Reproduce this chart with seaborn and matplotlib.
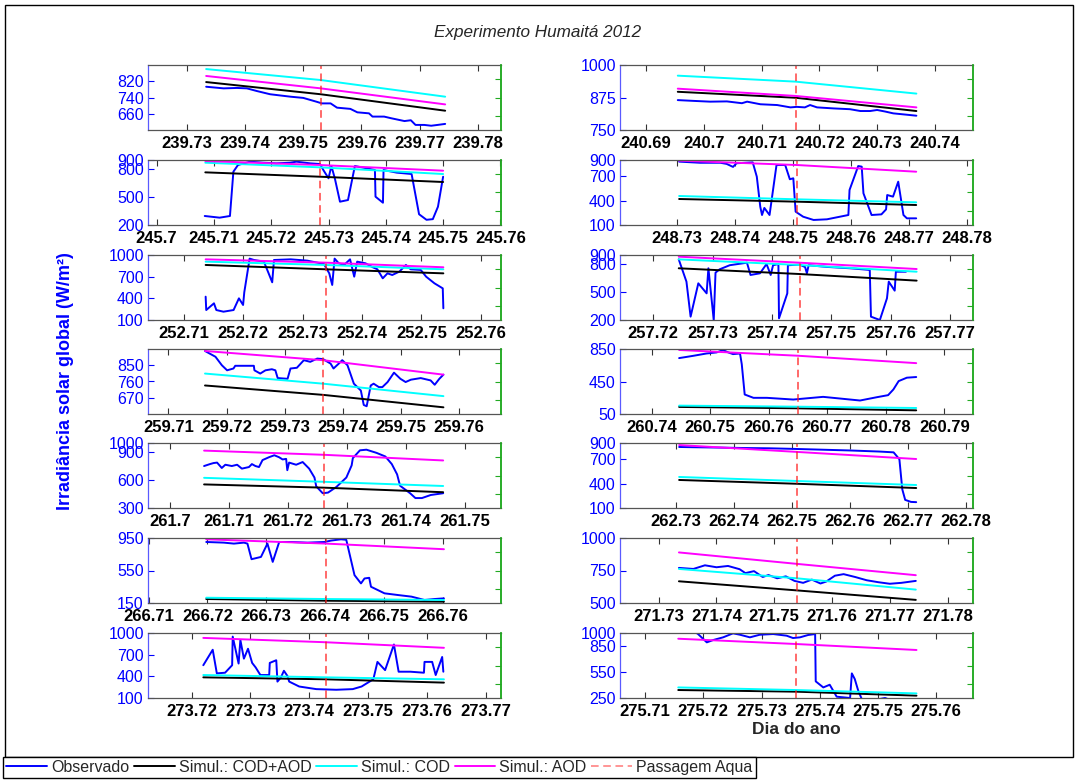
import numpy as np
import matplotlib
matplotlib.use("Agg")
import matplotlib.pyplot as plt
import seaborn as sns
from matplotlib.patches import Rectangle
from matplotlib.lines import Line2D

# ---------------- DATA ----------------
# Panel 1 (day 239)
p1_obs_x = [239.7333, 239.7363, 239.7386, 239.7403, 239.7420, 239.7443, 239.7478, 239.7500, 239.7523, 239.7532,
            239.7547, 239.7558, 239.7581, 239.7593, 239.7613, 239.7619, 239.7639, 239.7651, 239.7674, 239.7685,
            239.7693, 239.7708, 239.7720, 239.7731, 239.7744]
p1_obs_y = [793, 785, 787, 785, 772, 756, 744, 738, 719, 711, 711, 690, 684, 667, 662, 646, 646, 638, 624, 628,
            605, 605, 601, 605, 610]
p1_sim_x = [239.7333, 239.7530, 239.7744]
p1_cod_aod = [816, 756, 675]
p1_cod = [880, 826, 744]
p1_aod = [846, 785, 706]
p1_aqua = 239.7530

# Panel 2 (day 240)
p2_obs_x = [240.6955, 240.6982, 240.7011, 240.7040, 240.7066, 240.7075, 240.7098, 240.7127, 240.7150, 240.7161,
            240.7175, 240.7184, 240.7196, 240.7225, 240.7253, 240.7271, 240.7288, 240.7300, 240.7314, 240.7328,
            240.7346, 240.7368]
p2_obs_y = [865, 862, 859, 860, 853, 859, 849, 846, 837, 839, 837, 846, 837, 833, 830, 823, 823, 827, 821, 814,
            810, 805]
p2_sim_x = [240.6955, 240.7159, 240.7368]
p2_cod_aod = [897, 874, 823]
p2_cod = [959, 936, 890]
p2_aod = [909, 881, 837]
p2_aqua = 240.7159

# Panel 3 (day 245)
p3_obs_x = [245.7084, 245.7110, 245.7128, 245.7134, 245.7142, 245.7163, 245.7186, 245.7209, 245.7233, 245.7244,
            245.7268, 245.7285, 245.7291, 245.7300, 245.7305, 245.7311, 245.7320, 245.7334, 245.7346, 245.7367,
            245.7381, 245.7382, 245.7395, 245.7396, 245.7419, 245.7445, 245.7458, 245.7471, 245.7482, 245.7491,
            245.7500]
p3_obs_y = [297, 279, 297, 774, 846, 882, 871, 864, 871, 882, 864, 857, 792, 703, 835, 703, 451, 469, 835, 810,
            792, 505, 440, 792, 764, 749, 316, 256, 263, 397, 720]
p3_sim_x = [245.7085, 245.7285, 245.7500]
p3_cod_aod = [767, 720, 663]
p3_cod = [871, 821, 749]
p3_aod = [889, 846, 785]
p3_aqua = 245.7285

# Panel 4 (day 248)
p4_obs_x = [248.7304, 248.7340, 248.7375, 248.7386, 248.7397, 248.7403, 248.7431, 248.7438, 248.7444, 248.7447,
            248.7451, 248.7460, 248.7472, 248.7487, 248.7495, 248.7501, 248.7505, 248.7518, 248.7536, 248.7559,
            248.7596, 248.7598, 248.7613, 248.7619, 248.7622, 248.7636, 248.7653, 248.7661, 248.7663, 248.7673,
            248.7682, 248.7691, 248.7697, 248.7713]
p4_obs_y = [880, 866, 866, 852, 815, 860, 871, 695, 325, 223, 310, 223, 838, 838, 663, 675, 264, 202, 162, 170,
            223, 531, 826, 818, 490, 223, 231, 292, 469, 449, 633, 223, 182, 182]
p4_sim_x = [248.7304, 248.7508, 248.7713]
p4_cod_aod = [420, 387, 346]
p4_cod = [457, 416, 379]
p4_aod = [892, 838, 756]
p4_aqua = 248.7508

# Panel 5 (day 252)
p5_obs_x = [252.7137, 252.7138, 252.7151, 252.7155, 252.7167, 252.7184, 252.7193, 252.7200, 252.7202, 252.7211,
            252.7218, 252.7235, 252.7243, 252.7249, 252.7252, 252.7280, 252.7308, 252.7336, 252.7345, 252.7350,
            252.7354, 252.7361, 252.7370, 252.7380, 252.7387, 252.7392, 252.7406, 252.7418, 252.7426, 252.7435,
            252.7443, 252.7451, 252.7463, 252.7474, 252.7482, 252.7499, 252.7508, 252.7522, 252.7536, 252.7537]
p5_obs_y = [423, 238, 331, 238, 215, 238, 400, 308, 483, 950, 932, 908, 746, 622, 931, 940, 922, 876, 746, 585,
            950, 885, 862, 940, 700, 908, 885, 831, 802, 677, 746, 723, 770, 862, 802, 793, 700, 608, 538, 262]
p5_sim_x = [252.7137, 252.7339, 252.7537]
p5_cod_aod = [862, 802, 746]
p5_cod = [908, 862, 802]
p5_aod = [940, 894, 830]
p5_aqua = 252.7339

# Panel 6 (day 257)
p6_obs_x = [257.7243, 257.7256, 257.7263, 257.7276, 257.7290, 257.7293, 257.7302, 257.7305, 257.7312, 257.7329,
            257.7358, 257.7364, 257.7380, 257.7391, 257.7398, 257.7402, 257.7411, 257.7412, 257.7426, 257.7427,
            257.7447, 257.7456, 257.7459, 257.7462, 257.7492, 257.7532, 257.7565, 257.7567, 257.7582, 257.7594,
            257.7597, 257.7607, 257.7609, 257.7622, 257.7626]
p6_obs_y = [853, 613, 236, 595, 487, 757, 200, 710, 746, 790, 817, 685, 703, 803, 685, 790, 803, 218, 487, 790,
            796, 770, 703, 790, 772, 757, 739, 236, 200, 434, 613, 516, 720, 720, 720]
p6_sim_x = [257.7243, 257.7447, 257.7644]
p6_cod_aod = [757, 695, 624]
p6_cod = [853, 792, 720]
p6_aod = [882, 817, 749]
p6_aqua = 257.7447

# Panel 7 (day 259)
p7_obs_x = [259.7163, 259.7181, 259.7192, 259.7201, 259.7212, 259.7215, 259.7247, 259.7248, 259.7258, 259.7267,
            259.7278, 259.7284, 259.7288, 259.7305, 259.7310, 259.7321, 259.7333, 259.7344, 259.7356, 259.7366,
            259.7379, 259.7384, 259.7393, 259.7399, 259.7408, 259.7419, 259.7431, 259.7436, 259.7441, 259.7448,
            259.7453, 259.7462, 259.7468, 259.7477, 259.7488, 259.7499, 259.7508, 259.7517, 259.7534, 259.7551,
            259.7558, 259.7566, 259.7573]
p7_obs_y = [929, 897, 850, 822, 832, 847, 847, 822, 804, 822, 828, 822, 779, 775, 832, 836, 878, 869, 887, 884,
            859, 832, 859, 878, 850, 748, 710, 630, 623, 738, 748, 729, 729, 757, 809, 775, 757, 770, 779, 766,
            742, 775, 798]
p7_sim_x = [259.7163, 259.7366, 259.7573]
p7_cod_aod = [738, 686, 617]
p7_cod = [804, 748, 679]
p7_aod = [929, 878, 798]
p7_aqua = 259.7366

# Panel 8 (day 260)
p8_obs_x = [260.7447, 260.7460, 260.7471, 260.7494, 260.7511, 260.7522, 260.7531, 260.7539, 260.7551, 260.7554,
            260.7559, 260.7574, 260.7597, 260.7642, 260.7693, 260.7728, 260.7756, 260.7785, 260.7804, 260.7813,
            260.7822, 260.7836, 260.7852]
p8_obs_y = [738, 753, 766, 795, 808, 836, 808, 787, 795, 663, 290, 249, 249, 228, 261, 236, 216, 257, 282, 352,
            455, 497, 505]
p8_sim_x = [260.7447, 260.7650, 260.7852]
p8_cod_aod = [137, 120, 95]
p8_cod = [153, 140, 124]
p8_aod = [838, 767, 676]
p8_aqua = 260.7650

# Panel 9 (day 261)
p9_obs_x = [261.7058, 261.7068, 261.7074, 261.7080, 261.7088, 261.7094, 261.7105, 261.7114, 261.7122, 261.7134,
            261.7139, 261.7145, 261.7151, 261.7157, 261.7168, 261.7177, 261.7185, 261.7191, 261.7197, 261.7199,
            261.7202, 261.7214, 261.7225, 261.7236, 261.7245, 261.7248, 261.7259, 261.7268, 261.7282, 261.7299,
            261.7308, 261.7310, 261.7322, 261.7333, 261.7350, 261.7365, 261.7376, 261.7385, 261.7390, 261.7407,
            261.7416, 261.7427, 261.7442, 261.7463]
p9_obs_y = [752, 773, 784, 789, 731, 766, 752, 766, 724, 741, 773, 752, 741, 816, 847, 868, 847, 823, 829, 707,
            789, 766, 795, 724, 628, 533, 459, 466, 526, 628, 759, 837, 921, 928, 894, 855, 773, 662, 540, 459,
            407, 407, 440, 459]
p9_sim_x = [261.7058, 261.7261, 261.7463]
p9_cod_aod = [554, 519, 470]
p9_cod = [625, 582, 537]
p9_aod = [918, 873, 812]
p9_aqua = 261.7261

# Panel 10 (day 262)
p10_obs_x = [262.7305, 262.7330, 262.7380, 262.7420, 262.7460, 262.7500, 262.7550, 262.7600, 262.7650, 262.7675,
             262.7685, 262.7690, 262.7695, 262.7705, 262.7714]
p10_obs_y = [851, 848, 843, 838, 835, 828, 818, 808, 795, 785, 700, 330, 200, 175, 172]
p10_sim_x = [262.7305, 262.7509, 262.7714]
p10_cod_aod = [445, 398, 346]
p10_cod = [482, 432, 383]
p10_aod = [875, 790, 703]
p10_aqua = 262.7509

# Panel 11 (day 266)
p11_obs_x = [266.7198, 266.7228, 266.7245, 266.7262, 266.7268, 266.7275, 266.7291, 266.7302, 266.7311, 266.7322,
             266.7342, 266.7370, 266.7399, 266.7410, 266.7427, 266.7436, 266.7450, 266.7461, 266.7467, 266.7475,
             266.7478, 266.7501, 266.7524, 266.7547, 266.7569, 266.7586, 266.7602]
p11_obs_y = [901, 893, 881, 893, 881, 689, 717, 881, 656, 901, 901, 893, 901, 918, 934, 928, 493, 391, 452, 460,
             350, 269, 248, 228, 187, 199, 207]
p11_sim_x = [266.7198, 266.7402, 266.7602]
p11_cod_aod = [199, 178, 166]
p11_cod = [215, 199, 187]
p11_aod = [934, 881, 812]
p11_aqua = 266.7402

# Panel 12 (day 271)
p12_obs_x = [271.7335, 271.7360, 271.7380, 271.7400, 271.7420, 271.7440, 271.7450, 271.7465, 271.7480, 271.7490,
             271.7505, 271.7520, 271.7535, 271.7550, 271.7565, 271.7580, 271.7590, 271.7605, 271.7620, 271.7640,
             271.7660, 271.7680, 271.7700, 271.7720, 271.7745]
p12_obs_y = [770, 762, 790, 775, 785, 760, 730, 745, 700, 715, 690, 705, 670, 655, 680, 650, 665, 710, 722, 700,
             675, 660, 648, 655, 670]
p12_sim_x = [271.7335, 271.7539, 271.7745]
p12_cod_aod = [667, 597, 524]
p12_cod = [762, 690, 603]
p12_aod = [889, 801, 714]
p12_aqua = 271.7539

# Panel 13 (day 273)
p13_obs_x = [273.7220, 273.7236, 273.7243, 273.7257, 273.7269, 273.7270, 273.7280, 273.7283, 273.7289, 273.7296,
             273.7303, 273.7309, 273.7317, 273.7332, 273.7333, 273.7344, 273.7346, 273.7352, 273.7357, 273.7363,
             273.7366, 273.7383, 273.7412, 273.7446, 273.7474, 273.7489, 273.7509, 273.7516, 273.7529, 273.7544,
             273.7552, 273.7572, 273.7595, 273.7596, 273.7609, 273.7615, 273.7626, 273.7628]
p13_obs_y = [554, 768, 441, 450, 554, 950, 577, 904, 645, 782, 586, 523, 418, 418, 586, 623, 327, 386, 477, 405,
             327, 259, 223, 214, 223, 259, 359, 600, 486, 841, 464, 464, 450, 600, 600, 418, 668, 464]
p13_sim_x = [273.7220, 273.7428, 273.7629]
p13_cod_aod = [386, 359, 313]
p13_cod = [418, 386, 359]
p13_aod = [932, 872, 795]
p13_aqua = 273.7428

# Panel 14 (day 275)
p14_obs_x = [275.7157, 275.7172, 275.7186, 275.7191, 275.7206, 275.7217, 275.7234, 275.7251, 275.7263, 275.7280,
             275.7297, 275.7320, 275.7343, 275.7354, 275.7366, 275.7380, 275.7392, 275.7393, 275.7406, 275.7417,
             275.7429, 275.7452, 275.7455, 275.7460, 275.7466, 275.7472, 275.7492, 275.7512, 275.7520, 275.7566]
p14_obs_y = [1060, 1040, 1010, 988, 892, 919, 950, 996, 980, 950, 980, 988, 969, 942, 950, 977, 988, 442, 372,
             403, 265, 250, 534, 469, 334, 238, 225, 250, 230, 210]
p14_sim_x = [275.7157, 275.7359, 275.7566]
p14_cod_aod = [342, 323, 277]
p14_cod = [372, 342, 303]
p14_aod = [934, 873, 804]
p14_aqua = 275.7359

# Axis ranges and tick labels
x_lims = [(239.7233, 239.7840), (240.6855, 240.7466), (245.6985, 245.7601), (248.7202, 248.7811),
          (252.7040, 252.7634), (257.7144, 257.7739), (259.7065, 259.7672), (260.7346, 260.7949),
          (261.6963, 261.7561), (262.7203, 262.7812), (266.7099, 266.7699), (271.7233, 271.7844),
          (273.7126, 273.7726), (275.7057, 275.7663)]
x_first_tick = [239.73, 240.69, 245.70, 248.73, 252.71, 257.72, 259.71, 260.74, 261.70, 262.73, 266.71, 271.73,
                273.72, 275.71]
x_tick_count = [6, 6, 7, 6, 6, 6, 6, 6, 6, 6, 6, 6, 6, 6]
y_lims = [(580, 900), (750, 1000), (200, 900), (100, 900), (100, 1000), (200, 900), (580, 940), (50, 850),
          (300, 1000), (100, 900), (150, 950), (500, 1000), (100, 1000), (250, 1000)]
y_ticks = [[660, 740, 820], [750, 875, 1000], [200, 500, 800, 900], [100, 400, 700, 900],
           [100, 400, 700, 1000], [200, 500, 800, 900], [670, 760, 850], [50, 450, 850],
           [300, 600, 900, 1000], [100, 400, 700, 900], [150, 550, 950], [500, 750, 1000],
           [100, 400, 700, 1000], [250, 550, 850, 1000]]

panels = [
    (p1_obs_x, p1_obs_y, p1_sim_x, p1_cod_aod, p1_cod, p1_aod, p1_aqua),
    (p2_obs_x, p2_obs_y, p2_sim_x, p2_cod_aod, p2_cod, p2_aod, p2_aqua),
    (p3_obs_x, p3_obs_y, p3_sim_x, p3_cod_aod, p3_cod, p3_aod, p3_aqua),
    (p4_obs_x, p4_obs_y, p4_sim_x, p4_cod_aod, p4_cod, p4_aod, p4_aqua),
    (p5_obs_x, p5_obs_y, p5_sim_x, p5_cod_aod, p5_cod, p5_aod, p5_aqua),
    (p6_obs_x, p6_obs_y, p6_sim_x, p6_cod_aod, p6_cod, p6_aod, p6_aqua),
    (p7_obs_x, p7_obs_y, p7_sim_x, p7_cod_aod, p7_cod, p7_aod, p7_aqua),
    (p8_obs_x, p8_obs_y, p8_sim_x, p8_cod_aod, p8_cod, p8_aod, p8_aqua),
    (p9_obs_x, p9_obs_y, p9_sim_x, p9_cod_aod, p9_cod, p9_aod, p9_aqua),
    (p10_obs_x, p10_obs_y, p10_sim_x, p10_cod_aod, p10_cod, p10_aod, p10_aqua),
    (p11_obs_x, p11_obs_y, p11_sim_x, p11_cod_aod, p11_cod, p11_aod, p11_aqua),
    (p12_obs_x, p12_obs_y, p12_sim_x, p12_cod_aod, p12_cod, p12_aod, p12_aqua),
    (p13_obs_x, p13_obs_y, p13_sim_x, p13_cod_aod, p13_cod, p13_aod, p13_aqua),
    (p14_obs_x, p14_obs_y, p14_sim_x, p14_cod_aod, p14_cod, p14_aod, p14_aqua),
]

legend_labels = ["Observado", "Simul.: COD+AOD", "Simul.: COD", "Simul.: AOD", "Passagem Aqua"]

# ---------------- STYLE ----------------
sns.set_style("white")
plt.rcParams['font.family'] = ['Liberation Sans', 'DejaVu Sans']

W, H = 1078, 782
fig = plt.figure(figsize=(W / 100, H / 100), dpi=100)

C_OBS, C_CA, C_COD, C_AOD, C_AQ = "#0000ff", "#000000", "#00ffff", "#ff00ff", "#ff2020"
LW = 1.4
DASH = (0, (5, 3))

col_left = [148, 620]
ax_w = 353
row_bottom = [130, 225, 320, 414, 508, 603, 698]
ax_h = 65


def fmt(v):
    s = f"{v:.2f}".rstrip('0').rstrip('.')
    return s


for i, (ox, oy, sx, sca, scod, saod, aq) in enumerate(panels):
    col = i % 2
    row = i // 2
    left = col_left[col] / W
    bottom = (H - row_bottom[row]) / H
    ax = fig.add_axes([left, bottom, ax_w / W, ax_h / H])
    ax.set_facecolor("white")
    sns.lineplot(x=ox, y=oy, ax=ax, color=C_OBS, lw=LW, sort=False, estimator=None)
    sns.lineplot(x=sx, y=sca, ax=ax, color=C_CA, lw=LW, sort=False, estimator=None)
    sns.lineplot(x=sx, y=scod, ax=ax, color=C_COD, lw=LW, sort=False, estimator=None)
    sns.lineplot(x=sx, y=saod, ax=ax, color=C_AOD, lw=LW, sort=False, estimator=None)
    ax.axvline(aq, color=C_AQ, lw=1.1, ls=DASH, alpha=0.85)
    ax.set_xlim(*x_lims[i])
    ax.set_ylim(*y_lims[i])
    xt = [round(x_first_tick[i] + 0.01 * k, 2) for k in range(x_tick_count[i])]
    ax.set_xticks(xt)
    ax.set_xticklabels([fmt(v) for v in xt], fontsize=12, fontweight='bold', color='black')
    ax.set_yticks(y_ticks[i])
    ax.set_yticklabels([str(v) for v in y_ticks[i]], fontsize=11.5, color=C_OBS)
    ax.set_xlabel("")
    ax.set_ylabel("")
    ax.tick_params(axis='x', direction='in', top=True, bottom=True, length=4, width=0.8,
                   color='#333333', pad=4)
    ax.tick_params(axis='y', direction='in', left=True, right=True, length=4, width=0.8,
                   color=C_OBS, pad=3)
    for s in ['top', 'bottom']:
        ax.spines[s].set_color('#555555')
        ax.spines[s].set_linewidth(0.9)
    ax.spines['left'].set_color('#5a5aff')
    ax.spines['left'].set_linewidth(0.9)
    ax.spines['right'].set_color('#22aa22')
    ax.spines['right'].set_linewidth(1.1)
    ax2 = ax.twinx()
    ax2.set_ylim(0, 1)
    ax2.set_yticks([0.22, 0.5, 0.78])
    ax2.tick_params(axis='y', direction='in', length=4, width=0.8, color='#22aa22', labelright=False)
    for s in ['top', 'bottom', 'left']:
        ax2.spines[s].set_visible(False)
    ax2.spines['right'].set_color('#22aa22')
    ax2.spines['right'].set_linewidth(1.1)

# Texts
fig.text(538 / W, 1 - 33 / H, "Experimento Humaitá 2012", ha='center', va='center',
         fontsize=12.3, fontstyle='italic')
fig.text(66 / W, 1 - 381 / H, "Irradiância solar global (W/m²)", rotation=90, ha='center', va='center',
         fontsize=13, fontweight='bold', color=C_OBS)
fig.text(796 / W, 1 - 730 / H, "Dia do ano", ha='center', va='center', fontsize=12.5, fontweight='bold')

# Outer frame
fig.add_artist(Rectangle((5 / W, 1 - 757 / H), (1073 - 5) / W, (757 - 5) / H, transform=fig.transFigure,
                         fill=False, edgecolor='black', lw=1.0))

# Legend
handles = [Line2D([], [], color=C_OBS, lw=LW), Line2D([], [], color=C_CA, lw=LW),
           Line2D([], [], color=C_COD, lw=LW), Line2D([], [], color=C_AOD, lw=LW),
           Line2D([], [], color=C_AQ, lw=1.1, ls=DASH, alpha=0.6)]
leg = fig.legend(handles, legend_labels, loc='lower left', bbox_to_anchor=(3 / W, 4 / H), ncol=5,
                 fontsize=11.5, frameon=True, fancybox=False, borderpad=0.2, handlelength=2.55,
                 handletextpad=0.25, columnspacing=0.3, borderaxespad=0)
leg.get_frame().set_edgecolor('black')
leg.get_frame().set_linewidth(1.0)
leg.get_frame().set_facecolor('white')
leg.get_frame().set_alpha(1)

fig.savefig("out.png", dpi=100, facecolor='white')
